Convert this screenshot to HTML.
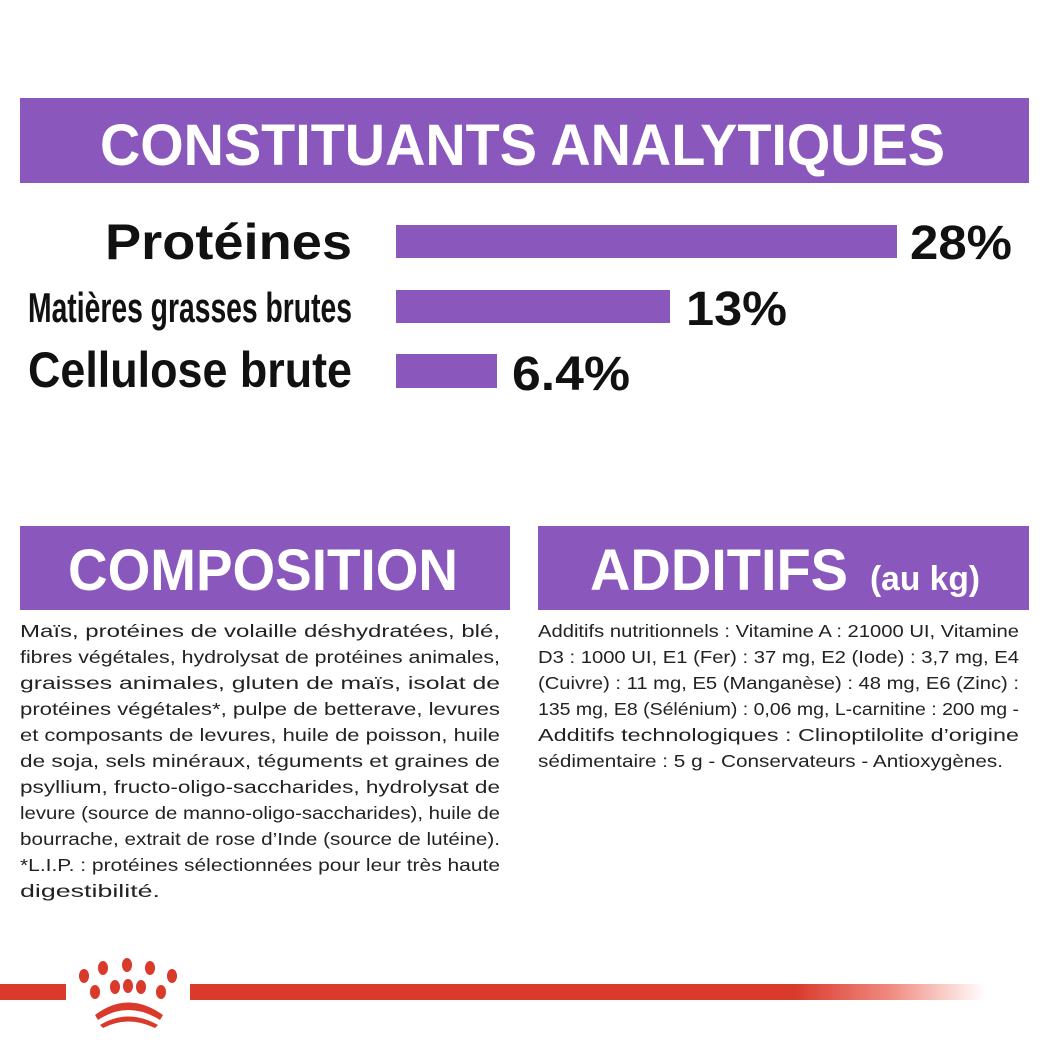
<!DOCTYPE html>
<html><head><meta charset="utf-8"><style>html,body{margin:0;padding:0;background:#fff;}svg{display:block}</style></head>
<body>
<svg width="1049" height="1049" viewBox="0 0 1049 1049" xmlns="http://www.w3.org/2000/svg" font-family="Liberation Sans, DejaVu Sans, sans-serif">
<defs>
<linearGradient id="fade" x1="0" x2="1" y1="0" y2="0">
<stop offset="0" stop-color="#d93a2b"/>
<stop offset="0.76" stop-color="#d93a2b"/>
<stop offset="0.88" stop-color="#ef8a80"/>
<stop offset="1" stop-color="#ffffff"/>
</linearGradient>
</defs>
<rect x="20" y="98" width="1009" height="85" fill="#8a57bd"/>
<text x="100" y="165" font-size="58" font-weight="bold" fill="#fff" textLength="845" lengthAdjust="spacingAndGlyphs">CONSTITUANTS ANALYTIQUES</text>

<rect x="396" y="225" width="501" height="33" fill="#8a57bd"/>
<rect x="396" y="290" width="274" height="33" fill="#8a57bd"/>
<rect x="396" y="354" width="101" height="34" fill="#8a57bd"/>

<g font-weight="bold" fill="#111">
<text x="105" y="259" font-size="50" textLength="247" lengthAdjust="spacingAndGlyphs">Protéines</text>
<text x="28" y="322" font-size="42" textLength="324" lengthAdjust="spacingAndGlyphs">Matières grasses brutes</text>
<text x="28" y="387" font-size="50" textLength="324" lengthAdjust="spacingAndGlyphs">Cellulose brute</text>
<text x="910" y="259" font-size="48" textLength="102" lengthAdjust="spacingAndGlyphs">28%</text>
<text x="686" y="325" font-size="48" textLength="101" lengthAdjust="spacingAndGlyphs">13%</text>
<text x="512" y="390" font-size="48" textLength="118" lengthAdjust="spacingAndGlyphs">6.4%</text>
</g>

<rect x="20" y="526" width="490" height="84" fill="#8a57bd"/>
<text x="68" y="590" font-size="58" font-weight="bold" fill="#fff" textLength="390" lengthAdjust="spacingAndGlyphs">COMPOSITION</text>
<rect x="538" y="526" width="491" height="84" fill="#8a57bd"/>
<text x="590" y="590" font-size="58" font-weight="bold" fill="#fff" textLength="258" lengthAdjust="spacingAndGlyphs">ADDITIFS</text>
<text x="870" y="590" font-size="34" font-weight="bold" fill="#fff" textLength="110" lengthAdjust="spacingAndGlyphs">(au kg)</text>

<g font-size="17.5" fill="#222">
<text x="20" y="637" textLength="480" lengthAdjust="spacingAndGlyphs">Maïs, protéines de volaille déshydratées, blé,</text>
<text x="20" y="663" textLength="480" lengthAdjust="spacingAndGlyphs">fibres végétales, hydrolysat de protéines animales,</text>
<text x="20" y="689" textLength="480" lengthAdjust="spacingAndGlyphs">graisses animales, gluten de maïs, isolat de</text>
<text x="20" y="715" textLength="480" lengthAdjust="spacingAndGlyphs">protéines végétales*, pulpe de betterave, levures</text>
<text x="20" y="741" textLength="480" lengthAdjust="spacingAndGlyphs">et composants de levures, huile de poisson, huile</text>
<text x="20" y="767" textLength="480" lengthAdjust="spacingAndGlyphs">de soja, sels minéraux, téguments et graines de</text>
<text x="20" y="793" textLength="480" lengthAdjust="spacingAndGlyphs">psyllium, fructo-oligo-saccharides, hydrolysat de</text>
<text x="20" y="819" textLength="480" lengthAdjust="spacingAndGlyphs">levure (source de manno-oligo-saccharides), huile de</text>
<text x="20" y="845" textLength="480" lengthAdjust="spacingAndGlyphs">bourrache, extrait de rose d’Inde (source de lutéine).</text>
<text x="20" y="871" textLength="480" lengthAdjust="spacingAndGlyphs">*L.I.P. : protéines sélectionnées pour leur très haute</text>
<text x="20" y="897" textLength="140" lengthAdjust="spacingAndGlyphs">digestibilité.</text>

<text x="538" y="637" textLength="481" lengthAdjust="spacingAndGlyphs">Additifs nutritionnels : Vitamine A : 21000 UI, Vitamine</text>
<text x="538" y="663" textLength="481" lengthAdjust="spacingAndGlyphs">D3 : 1000 UI, E1 (Fer) : 37 mg, E2 (Iode) : 3,7 mg, E4</text>
<text x="538" y="689" textLength="481" lengthAdjust="spacingAndGlyphs">(Cuivre) : 11 mg, E5 (Manganèse) : 48 mg, E6 (Zinc) :</text>
<text x="538" y="715" textLength="481" lengthAdjust="spacingAndGlyphs">135 mg, E8 (Sélénium) : 0,06 mg, L-carnitine : 200 mg -</text>
<text x="538" y="741" textLength="481" lengthAdjust="spacingAndGlyphs">Additifs technologiques : Clinoptilolite d’origine</text>
<text x="538" y="767" textLength="465" lengthAdjust="spacingAndGlyphs">sédimentaire : 5 g - Conservateurs - Antioxygènes.</text>
</g>

<rect x="0" y="984" width="66" height="16" fill="#d93a2b"/>
<rect x="190" y="984" width="795" height="16" fill="url(#fade)"/>
<g fill="#d93a2b">
<ellipse cx="84" cy="976" rx="5" ry="7"/>
<ellipse cx="103" cy="968" rx="5" ry="7"/>
<ellipse cx="127" cy="965" rx="5" ry="7"/>
<ellipse cx="150" cy="968" rx="5" ry="7"/>
<ellipse cx="172" cy="976" rx="5" ry="7"/>
<ellipse cx="95" cy="992" rx="5" ry="7"/>
<ellipse cx="115" cy="987" rx="5" ry="7"/>
<ellipse cx="128" cy="986" rx="5" ry="7"/>
<ellipse cx="141" cy="987" rx="5" ry="7"/>
<ellipse cx="161" cy="992" rx="5" ry="7"/>
<path d="M95 1015 Q128 990 163 1015 L160 1020 Q128 1000 98 1020 Z"/>
<path d="M100 1025 Q128 1008 158 1025 L155 1028 Q128 1015 103 1028 Z"/>
</g>
</svg>
</body></html>
